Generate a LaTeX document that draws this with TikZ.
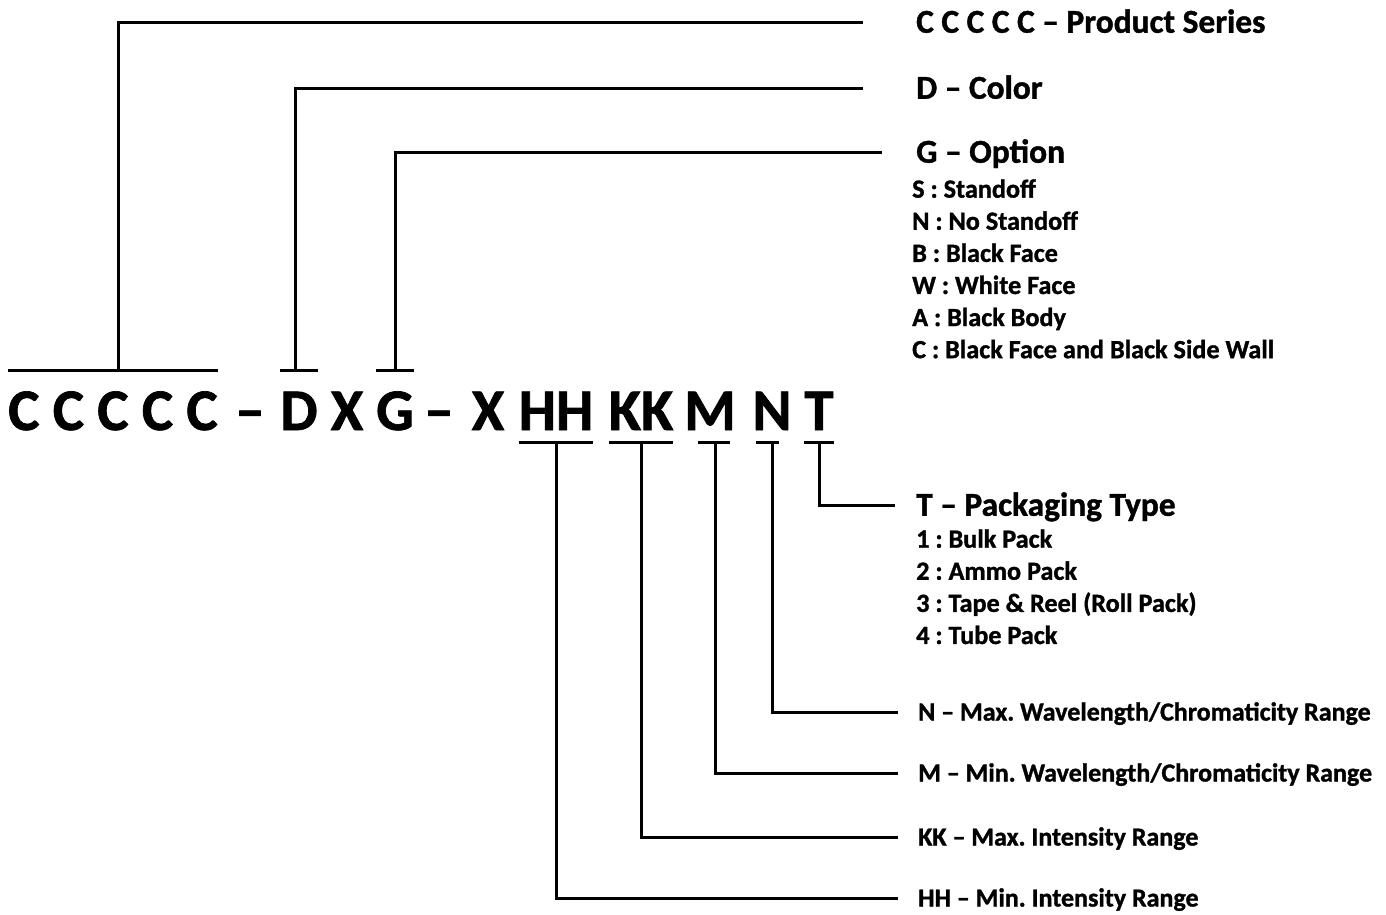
\documentclass[tikz,border=0pt]{standalone}
\usepackage{fontspec}
\setmainfont{Carlito}[BoldFeatures={FakeBold=1.2}]
\usetikzlibrary{positioning}
\frenchspacing

\begin{document}
\begin{tikzpicture}[
    x=1pt, y=-1pt,
    every node/.style={inner sep=0pt, font=\bfseries},
    code/.style={
        anchor=base, font=\fontsize{59}{59}\selectfont\bfseries,
        text height=38pt, text depth=0pt
    },
    head/.style={
        anchor=west, font=\fontsize{33.4}{38}\selectfont\bfseries,
        text height=21.5pt, text depth=0pt
    },
    item/.style={
        anchor=north west, font=\fontsize{26.2}{30}\selectfont\bfseries,
        text height=17pt, text depth=0pt
    },
    field/.style={
        anchor=west, font=\fontsize{26}{30}\selectfont\bfseries,
        text height=17pt, text depth=0pt
    },
    lead/.style={line width=3pt},
]
\useasboundingbox (0,0) rectangle (1386,914);

% Part number
\node[code] (cc) at (113,430) {C C C C C};
\node[code] (dash1) at (250,430) {–};
\node[code] (d) at (299,430) {D};
\node[code] (x1) at (347,430) {X};
\node[code] (g) at (395,430) {G};
\node[code] (dash2) at (439,430) {–};
\node[code] (x2) at (488,430) {X};
\node[code] (hh) at (556,430) {HH};
\node[code] (kk) at (641,430) {KK};
\node[code] (m) at (710,430) {M};
\node[code] (n) at (772,430) {N};
\node[code] (t) at (819,430) {T};

% Bars over / under the fields
\draw[lead] ([yshift=21pt]cc.north west) -- ([yshift=21pt]cc.north east);
\draw[lead] ([yshift=21pt]d.north west) -- ([yshift=21pt]d.north east);
\draw[lead] ([yshift=21pt]g.north west) -- ([yshift=21pt]g.north east);
\draw[lead] ([yshift=-12pt]hh.south west) -- ([yshift=-12pt]hh.south east);
\draw[lead] ([yshift=-12pt]kk.south west) -- ([yshift=-12pt]kk.south east);
\draw[lead, shorten <=14pt, shorten >=6pt] ([yshift=-12pt]m.south west) -- ([yshift=-12pt]m.south east);
\draw[lead, shorten <=4pt, shorten >=13pt] ([yshift=-12pt]n.south west) -- ([yshift=-12pt]n.south east);
\draw[lead] ([yshift=-12pt]t.south west) -- ([yshift=-12pt]t.south east);

\coordinate (ccbar) at ([xshift=5pt, yshift=21pt]cc.north);
\coordinate (dbar) at ([xshift=-4pt, yshift=21pt]d.north);
\coordinate (gbar) at ([yshift=21pt]g.north);
\coordinate (hhbar) at ([yshift=-12pt]hh.south);
\coordinate (kkbar) at ([yshift=-12pt]kk.south);
\coordinate (mbar) at ([xshift=5pt, yshift=-12pt]m.south);
\coordinate (nbar) at ([yshift=-12pt]n.south);
\coordinate (tbar) at ([yshift=-12pt]t.south);

% Upper legend
\node[head] (series) at (916,22) {C C C C C – Product Series};
\node[head] (color) at (916,88) {D – Color};
\node[head] (option) at (916,152) {G – Option};
\node[item, below=17.5pt of option.south west, anchor=north west, xshift=-4pt] (opts) {S : Standoff};
\node[item, below=14.7pt of opts.south west, anchor=north west] (optn) {N : No Standoff};
\node[item, below=14.7pt of optn.south west, anchor=north west] (optb) {B : Black Face};
\node[item, below=14.7pt of optb.south west, anchor=north west] (optw) {W : White Face};
\node[item, below=14.7pt of optw.south west, anchor=north west] (opta) {A : Black Body};
\node[item, below=14.7pt of opta.south west, anchor=north west] (optc) {C : Black Face and Black Side Wall};

% Lower legend
\node[head] (packing) at (916,505) {T – Packaging Type};
\node[item, below=14.5pt of packing.south west, anchor=north west] (pack1) {1 : Bulk Pack};
\node[item, below=14.7pt of pack1.south west, anchor=north west] (pack2) {2 : Ammo Pack};
\node[item, below=14.7pt of pack2.south west, anchor=north west] (pack3) {3 : Tape \& Reel (Roll Pack)};
\node[item, below=14.7pt of pack3.south west, anchor=north west] (pack4) {4 : Tube Pack};

\node[field] (nrange) at (918,712) {N – Max. Wavelength/Chromaticity Range};
\node[field] (mrange) at (918,773) {M – Min. Wavelength/Chromaticity Range};
\node[field] (kkrange) at (918,837) {KK – Max. Intensity Range};
\node[field] (hhrange) at (918,898) {HH – Min. Intensity Range};

% Leaders
\draw[lead] (ccbar) |- ([xshift=-53pt]series.west);
\draw[lead] (dbar) |- ([xshift=-53pt]color.west);
\draw[lead] (gbar) |- ([xshift=-34pt]option.west);
\draw[lead] (tbar) |- ([xshift=-21pt]packing.west);
\draw[lead] (nbar) |- ([xshift=-20pt]nrange.west);
\draw[lead] (mbar) |- ([xshift=-20pt]mrange.west);
\draw[lead] (kkbar) |- ([xshift=-20pt]kkrange.west);
\draw[lead] (hhbar) |- ([xshift=-20pt]hhrange.west);

\end{tikzpicture}
\end{document}
